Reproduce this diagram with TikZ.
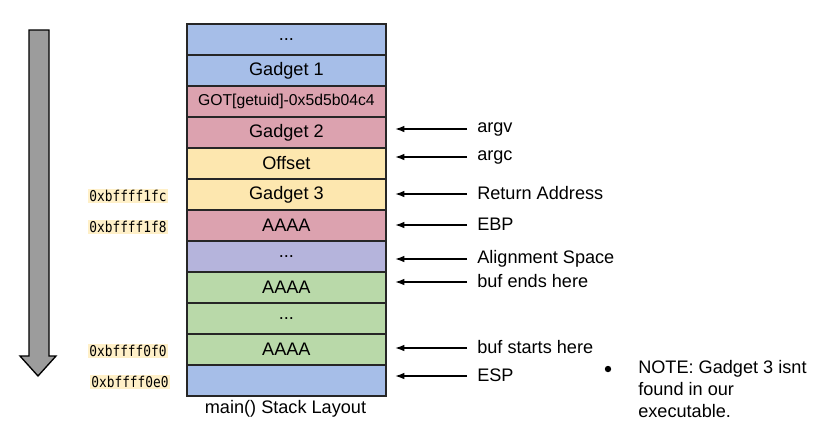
\documentclass[tikz,border=0pt]{standalone}
\usepackage{fontspec}
\setmainfont{Liberation Sans}
\newfontfamily\addrfont[FakeStretch=0.86]{DejaVu Sans Mono}
\usetikzlibrary{arrows.meta}
\definecolor{cblue}{HTML}{A6BEE8}
\definecolor{cpink}{HTML}{DCA2AF}
\definecolor{cyellow}{HTML}{FDE7AF}
\definecolor{cgreen}{HTML}{B9D9A9}
\definecolor{cmix}{HTML}{B5B4DC}
\definecolor{caddr}{HTML}{FFF0C8}
\definecolor{cgray}{HTML}{9C9C9C}
\tikzset{
  cell/.style={draw=black!85, line width=1.3pt, minimum width=199*0.75pt, minimum height=31*0.75pt,
    inner sep=0pt, font=\fontsize{13.6}{16}\selectfont, anchor=north west},
  addr/.style={fill=caddr, inner sep=1pt, font=\addrfont\fontsize{11.2}{13}\selectfont},
  lbl/.style={anchor=west, inner sep=0pt, font=\fontsize{13.6}{16}\selectfont},
  ptr/.style={-{Latex[length=7pt,width=5pt]}, line width=1.2pt},
}
\begin{document}
\begin{tikzpicture}[x=0.75pt,y=-0.75pt]
\useasboundingbox (0,0) rectangle (816,430);
% big arrow
\draw[fill=cgray, draw=black, line width=1pt]
  (29,30) -- (49,30) -- (49,356) -- (56,356) -- (38,376) -- (20,356) -- (29,356) -- cycle;
% stack cells
\node[cell, fill=cblue]   (r1)  at (186,23)  {...};
\node[cell, fill=cblue]   (r2)  at (186,54)  {Gadget 1};
\node[cell, fill=cpink, font=\fontsize{11.8}{14}\selectfont] (r3)  at (186,85)  {GOT[getuid]-0x5d5b04c4};
\node[cell, fill=cpink]   (r4)  at (186,116) {Gadget 2};
\node[cell, fill=cyellow] (r5)  at (186,147) {Offset};
\node[cell, fill=cyellow] (r6)  at (186,178) {Gadget 3};
\node[cell, fill=cpink]   (r7)  at (186,209) {AAAA};
\node[cell, fill=cmix]    (r8)  at (186,240) {...};
\node[cell, fill=cgreen]  (r9)  at (186,271) {AAAA};
\node[cell, fill=cgreen]  (r10) at (186,302) {...};
\node[cell, fill=cgreen]  (r11) at (186,333) {AAAA};
\node[cell, fill=cblue]   (r12) at (186,364) {};
\node[font=\fontsize{13.6}{16}\selectfont, inner sep=0pt] (cap) at (285.5,409) {main() Stack Layout};
% addresses
\node[addr] (a1) at (128,196) {0xbffff1fc};
\node[addr] (a2) at (128,227) {0xbffff1f8};
\node[addr] (a3) at (128,351) {0xbffff0f0};
\node[addr] (a4) at (130,382) {0xbffff0e0};
% pointer labels
\node[lbl] (l1) at (477,129) {argv};
\node[lbl] (l2) at (477,157) {argc};
\node[lbl] (l3) at (477,193) {Return Address};
\node[lbl] (l4) at (477,224) {EBP};
\node[lbl] (l5) at (477,259) {Alignment Space};
\node[lbl] (l6) at (477,281) {buf ends here};
\node[lbl] (l7) at (477,347) {buf starts here};
\node[lbl] (l8) at (477,375) {ESP};
\foreach \i/\yy in {1/129,2/157,3/194,4/225,5/259,6/282,7/348,8/376}{
  \coordinate (s\i) at (467,\yy);
  \coordinate (e\i) at (395,\yy);
  \draw[ptr] (s\i) -- (e\i);
}
% note
\fill (608,369) circle (3.2);
\node[anchor=north west, align=left, inner sep=0pt, font=\fontsize{13.6}{16.5}\selectfont] (note) at (638,360)
  {NOTE: Gadget 3 isnt\\found in our\\executable.};
\end{tikzpicture}
\end{document}
